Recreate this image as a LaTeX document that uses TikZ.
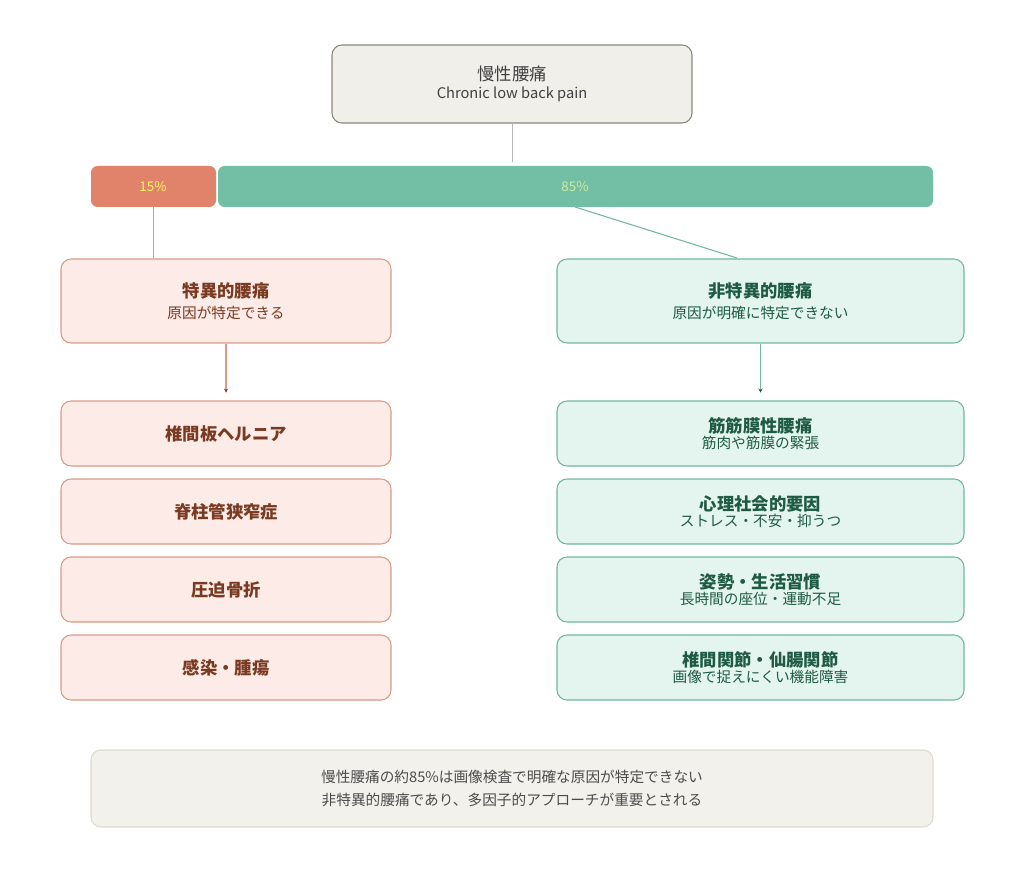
\documentclass[tikz,border=0pt]{standalone}
\usepackage{fontspec}
\setmainfont{Noto Sans CJK JP}
\usetikzlibrary{positioning,arrows.meta}
\definecolor{topfill}{HTML}{F1EFEA}
\definecolor{topline}{HTML}{8A8780}
\definecolor{orbar}{HTML}{E0836A}
\definecolor{grbar}{HTML}{72BFA5}
\definecolor{lfill}{HTML}{FCEBE6}
\definecolor{lline}{HTML}{D99A86}
\definecolor{ltext}{HTML}{7A3A22}
\definecolor{rfill}{HTML}{E3F5EE}
\definecolor{rline}{HTML}{6FB89C}
\definecolor{rtext}{HTML}{1E5A44}
\definecolor{notefill}{HTML}{F3F1EC}
\definecolor{noteline}{HTML}{DDDAD3}
\tikzset{
  box/.style={rounded corners=7.5pt, line width=0.8pt, align=center, inner sep=0pt},
  lbox/.style={box, fill=lfill, draw=lline, text=ltext, minimum width=247.5pt, minimum height=48.75pt},
  rbox/.style={box, fill=rfill, draw=rline, text=rtext, minimum width=305.25pt, minimum height=48.75pt},
  ttl/.style={font=\fontsize{13}{17}\selectfont\bfseries},
  sub/.style={font=\fontsize{11}{15}\selectfont},
}
\begin{document}
\begin{tikzpicture}[x=0.75pt,y=-0.75pt]
\useasboundingbox (0,0) rectangle (1024,873);
% top
\node[box, fill=topfill, draw=topline, text=black!75, minimum width=270pt, minimum height=58.5pt] (top) at (512,84)
  {{\fontsize{13}{17}\selectfont 慢性腰痛}\\[2pt]{\fontsize{11}{15}\selectfont Chronic low back pain}};
% bar
\node[rounded corners=5pt, fill=orbar, minimum width=93.75pt, minimum height=30.75pt, inner sep=0pt] (bar15) at (153.5,186.5) {};
\node[rounded corners=5pt, fill=grbar, minimum width=536.25pt, minimum height=30.75pt, inner sep=0pt] (bar85) at (575.5,186.5) {};
\node[text=yellow!60!white, font=\fontsize{10}{12}\selectfont] at (153,187) {15\%};
\node[text=yellow!50!green!40!white, font=\fontsize{10}{12}\selectfont] at (575,187) {85\%};
\coordinate (c85) at (575,207);
\draw[topline!60, line width=0.6pt] (top.south) -- (512,162);
% categories
\node[lbox, minimum height=63pt] (spec) at (226,301) {{\fontsize{13}{17}\selectfont\bfseries 特異的腰痛}\\[4pt]{\fontsize{11}{15}\selectfont 原因が特定できる}};
\node[rbox, minimum height=63pt] (nspec) at (760.5,301) {{\fontsize{13}{17}\selectfont\bfseries 非特異的腰痛}\\[4pt]{\fontsize{11}{15}\selectfont 原因が明確に特定できない}};
\draw[lline, line width=0.8pt] (bar15.south) -- (bar15.south |- spec.north);
\draw[rline, line width=0.8pt] (c85) -- (737,258);
% left items
\node[lbox, ttl] (l1) at (226,433.5) {椎間板ヘルニア};
\node[lbox, ttl] (l2) at (226,511.5) {脊柱管狭窄症};
\node[lbox, ttl] (l3) at (226,589.5) {圧迫骨折};
\node[lbox, ttl] (l4) at (226,667.5) {感染・腫瘍};
% right items
\node[rbox] (r1) at (760.5,433.5) {{\fontsize{13}{16}\selectfont\bfseries 筋筋膜性腰痛}\\{\fontsize{11}{14}\selectfont 筋肉や筋膜の緊張}};
\node[rbox] (r2) at (760.5,511.5) {{\fontsize{13}{16}\selectfont\bfseries 心理社会的要因}\\{\fontsize{11}{14}\selectfont ストレス・不安・抑うつ}};
\node[rbox] (r3) at (760.5,589.5) {{\fontsize{13}{16}\selectfont\bfseries 姿勢・生活習慣}\\{\fontsize{11}{14}\selectfont 長時間の座位・運動不足}};
\node[rbox] (r4) at (760.5,667.5) {{\fontsize{13}{16}\selectfont\bfseries 椎間関節・仙腸関節}\\{\fontsize{11}{14}\selectfont 画像で捉えにくい機能障害}};
\draw[lline, line width=0.8pt, -{Stealth[length=3pt,width=3pt,color=ltext]}] (spec.south) -- ++(0,49);
\draw[rline, line width=0.8pt, -{Stealth[length=3pt,width=3pt,color=rtext]}] (nspec.south) -- ++(0,49);
% note
\node[box, fill=notefill, draw=noteline, text=black!70, minimum width=631.5pt, minimum height=57.75pt, font=\fontsize{11}{17}\selectfont] (note) at (512,788.5)
  {慢性腰痛の約85\%は画像検査で明確な原因が特定できない\\非特異的腰痛であり、多因子的アプローチが重要とされる};
\end{tikzpicture}
\end{document}
